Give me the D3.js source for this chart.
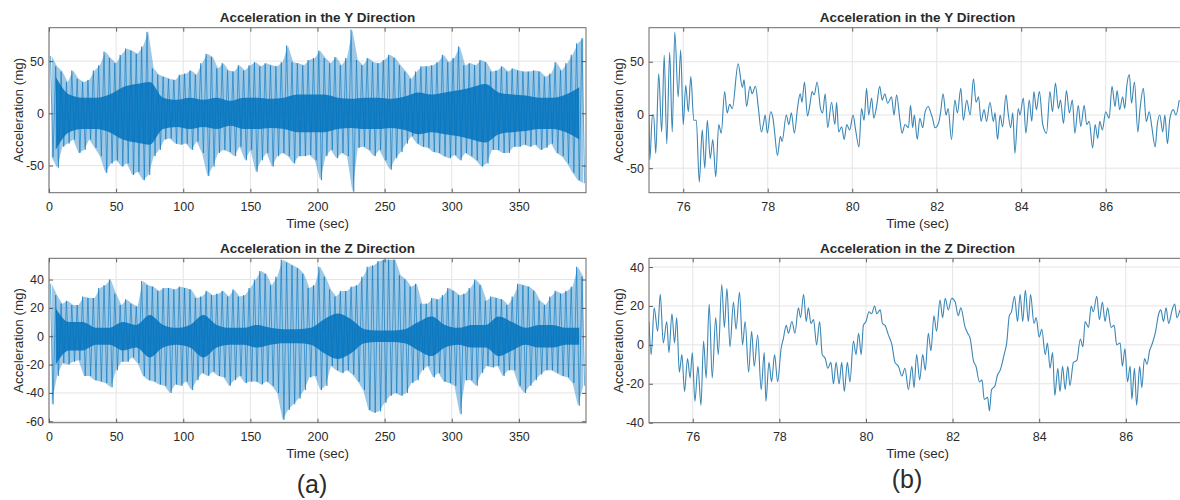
<!DOCTYPE html>
<html>
<head>
<meta charset="utf-8">
<script src="https://cdn.jsdelivr.net/npm/d3@7"></script>
<style>
  body { margin: 0; background: #fff; }
  text { font-family: "Liberation Sans", Arial, Helvetica, sans-serif; fill: #2b2b2b; }
</style>
</head>
<body>
<svg id="chart" width="1180" height="500"></svg>
<script>
// ---- data ----
// (a) panels: per 4 s bin, highest and lowest excursion; core = dense band half-width per 10 s
const binSec = 4, coreSec = 10;
const yDirHi = [55,45,40,30,41,33,30,32,41,46, 59,53,48,56,62,60,57,64,78,43,
  37,35,33,32,37,38,41,37,48,57, 54,43,48,41,40,46,41,46,49,45,
  48,46,45,49,65,49,48,46,51,53, 60,53,48,54,46,53,80,51,46,53,
  49,48,51,56,53,46,40,33,40,45, 45,46,49,56,49,53,64,46,48,46,
  51,49,40,41,45,40,43,41,40,40, 41,40,35,38,49,41,48,56,67,72];
const yDirLo = [-42,-52,-32,-29,-25,-38,-35,-25,-33,-41, -57,-48,-45,-51,-48,-59,-56,-64,-59,-41,
  -35,-25,-24,-29,-30,-29,-35,-27,-38,-60, -51,-38,-35,-37,-41,-32,-45,-35,-56,-45,
  -38,-51,-41,-38,-41,-48,-41,-41,-40,-45, -64,-41,-35,-43,-38,-41,-75,-33,-32,-35,
  -41,-35,-45,-54,-43,-37,-29,-22,-29,-32, -33,-37,-38,-41,-43,-40,-45,-38,-41,-45,
  -51,-48,-35,-35,-38,-38,-32,-32,-30,-32, -30,-35,-33,-29,-38,-41,-48,-57,-64,-67];
const yDirCore = [35,18,15,15,18,25,28,30,15,13, 15,13,15,12,15,15,14,15,18,18,
  18,15,14,15,15,14,16,20,18,20, 22,25,28,20,18,17,15,15,18,25];

const zDirHi = [37,29,23,25,22,22,28,27,27,34, 36,40,30,22,26,23,21,39,36,35,
  32,34,34,33,35,34,33,27,28,32, 29,30,32,28,33,28,29,34,40,46,
  44,36,42,54,52,50,48,44,34,36, 49,42,33,28,32,32,35,36,42,49,
  50,53,54,54,54,43,40,35,37,23, 23,27,26,29,34,32,29,30,34,40,
  36,25,28,27,26,22,28,37,36,35, 32,25,22,28,32,30,32,35,49,42];
const zDirLo = [-48,-28,-19,-20,-18,-17,-28,-28,-31,-32, -33,-36,-24,-18,-18,-15,-19,-28,-31,-32,
  -34,-35,-40,-34,-35,-32,-38,-31,-26,-28, -25,-28,-29,-35,-31,-28,-33,-32,-32,-34,
  -32,-35,-40,-59,-52,-48,-44,-38,-29,-28, -38,-35,-21,-24,-26,-24,-27,-32,-38,-52,
  -54,-53,-47,-42,-40,-42,-40,-33,-31,-24, -21,-29,-26,-32,-33,-35,-55,-31,-31,-35,
  -26,-21,-22,-21,-28,-24,-24,-35,-40,-35, -31,-27,-24,-24,-26,-28,-29,-33,-49,-35];
const zDirCore = [20,10,10,6,6,10,8,15,8,6, 8,15,8,6,6,8,6,5,5,6,
  12,16,12,5,4,4,5,10,14,8, 6,8,8,14,10,6,8,8,6,6];

// (b) panels: [time (s), acceleration (mg)] at the turning points of the trace
const yZoom = [[75.19,0],[75.21,-42],[75.27,0],[75.30,0],[75.35,-36],[75.42,39],[75.49,-16],[75.55,56],
  [75.61,-27],[75.68,59],[75.74,-16],[75.80,78],[75.88,17],[75.94,61],[76.00,-9],[76.06,28],[76.12,3],
  [76.18,36],[76.25,-5],[76.31,-5],[76.38,-63],[76.45,-14],[76.51,-50],[76.57,-5],[76.64,-41],[76.70,-23],
  [76.77,-58],[76.84,-9],[76.90,-17],[76.98,22],[77.04,2],[77.10,10],[77.16,6],[77.30,48],[77.40,26],
  [77.44,33],[77.50,8],[77.58,27],[77.63,20],[77.71,27],[77.78,6],[77.85,-16],[77.90,-8],[77.94,0],
  [77.99,-17],[78.07,3],[78.12,-2],[78.16,-15],[78.23,-38],[78.30,-20],[78.34,-25],[78.44,0],[78.50,-9],
  [78.56,2],[78.63,-17],[78.71,8],[78.77,20],[78.81,12],[78.87,31],[78.94,-1],[79.00,10],[79.05,22],
  [79.10,19],[79.17,31],[79.25,6],[79.30,2],[79.36,20],[79.42,-12],[79.51,12],[79.59,-9],[79.63,12],
  [79.68,-16],[79.75,-11],[79.81,-23],[79.87,-9],[79.94,-14],[80.02,0],[80.08,-14],[80.16,-30],[80.22,6],
  [80.28,-5],[80.34,25],[80.39,0],[80.46,16],[80.51,-3],[80.58,9],[80.65,27],[80.71,14],[80.77,20],
  [80.84,11],[80.93,17],[80.99,0],[81.05,19],[81.13,-5],[81.18,-17],[81.25,-9],[81.33,-12],[81.38,9],
  [81.43,-12],[81.47,0],[81.54,-23],[81.60,-3],[81.67,-12],[81.72,2],[81.80,8],[81.86,2],[81.90,-3],
  [81.96,-12],[82.04,-8],[82.09,2],[82.15,20],[82.22,0],[82.27,6],[82.35,-23],[82.43,14],[82.49,2],
  [82.57,25],[82.63,-5],[82.71,14],[82.79,0],[82.87,34],[82.93,12],[82.99,17],[83.05,-6],[83.12,5],
  [83.18,-6],[83.26,12],[83.34,-6],[83.38,2],[83.44,-23],[83.50,0],[83.56,-11],[83.64,19],[83.69,2],
  [83.75,-12],[83.80,2],[83.85,-36],[83.93,6],[83.97,0],[84.05,16],[84.11,-17],[84.19,14],[84.25,-6],
  [84.30,22],[84.36,5],[84.43,22],[84.51,-9],[84.60,-17],[84.68,22],[84.74,3],[84.81,30],[84.88,6],
  [84.93,14],[85.00,-8],[85.07,23],[85.14,2],[85.21,14],[85.27,-17],[85.35,9],[85.41,-11],[85.49,9],
  [85.55,-9],[85.61,-6],[85.69,-31],[85.75,-9],[85.81,-22],[85.86,-6],[85.92,-14],[86.00,3],[86.08,-3],
  [86.15,27],[86.22,8],[86.27,23],[86.33,5],[86.40,17],[86.45,6],[86.50,28],[86.56,38],[86.61,11],
  [86.68,31],[86.76,-16],[86.81,5],[86.89,25],[86.96,-6],[87.03,3],[87.09,-11],[87.17,-30],[87.22,-9],
  [87.28,0],[87.35,-16],[87.40,0],[87.46,-27],[87.52,-3],[87.60,5],[87.66,0],[87.74,14]];
const zZoom = [[74.99,12],[75.04,-5],[75.11,19],[75.19,7],[75.25,26],[75.32,1],[75.40,12],[75.45,-4],
  [75.52,16],[75.58,1],[75.63,14],[75.69,-14],[75.75,-5],[75.81,-24],[75.88,-7],[75.94,-17],[75.99,-4],
  [76.05,-29],[76.12,-11],[76.19,-31],[76.25,2],[76.31,-17],[76.38,21],[76.45,-17],[76.53,14],[76.59,-5],
  [76.67,31],[76.73,9],[76.79,29],[76.86,-1],[76.94,22],[77.00,8],[77.08,27],[77.15,0],[77.21,12],
  [77.29,-14],[77.36,7],[77.42,-11],[77.50,5],[77.58,-23],[77.65,-4],[77.69,-29],[77.76,-9],[77.82,-19],
  [77.89,-5],[77.96,-19],[78.04,-2],[78.09,3],[78.16,10],[78.21,6],[78.29,12],[78.36,6],[78.44,19],
  [78.49,14],[78.56,26],[78.62,12],[78.67,19],[78.73,11],[78.79,13],[78.86,0],[78.93,12],[78.99,-5],
  [79.06,-7],[79.12,-12],[79.19,-9],[79.25,-20],[79.31,-9],[79.38,-20],[79.44,-9],[79.50,-24],[79.57,-9],
  [79.63,-19],[79.71,2],[79.77,-5],[79.83,6],[79.89,-5],[79.94,10],[80.00,12],[80.07,17],[80.13,16],
  [80.20,20],[80.25,16],[80.33,18],[80.38,11],[80.44,10],[80.52,5],[80.60,0],[80.67,-9],[80.75,-11],
  [80.83,-16],[80.90,-12],[80.98,-23],[81.06,-11],[81.11,-22],[81.17,-5],[81.24,-18],[81.31,-5],
  [81.37,-13],[81.44,6],[81.50,-3],[81.57,15],[81.63,7],[81.71,23],[81.77,14],[81.83,24],[81.90,18],
  [81.98,24],[82.06,22],[82.13,15],[82.19,19],[82.29,9],[82.35,6],[82.41,3],[82.48,-8],[82.54,-11],
  [82.62,-19],[82.68,-18],[82.73,-28],[82.81,-27],[82.85,-34],[82.90,-23],[82.98,-21],[83.03,-16],
  [83.10,-13],[83.19,-5],[83.25,1],[83.31,15],[83.36,17],[83.43,25],[83.50,12],[83.56,26],[83.62,12],
  [83.68,28],[83.75,12],[83.80,26],[83.88,11],[83.93,14],[84.00,4],[84.06,8],[84.14,-5],[84.19,1],
  [84.25,-12],[84.31,-4],[84.36,-26],[84.43,-12],[84.48,-24],[84.54,-11],[84.60,-23],[84.66,-11],
  [84.71,-21],[84.79,-9],[84.87,-8],[84.95,3],[85.01,-1],[85.06,12],[85.14,9],[85.20,20],[85.25,17],
  [85.33,25],[85.39,13],[85.46,22],[85.52,12],[85.58,19],[85.66,9],[85.73,10],[85.79,0],[85.87,1],
  [85.92,-11],[85.98,-2],[86.04,-19],[86.10,-11],[86.14,-28],[86.20,-12],[86.25,-31],[86.32,-11],
  [86.37,-22],[86.43,-7],[86.49,-10],[86.55,-3],[86.60,0],[86.68,6],[86.76,16],[86.81,18],[86.87,12],
  [86.93,19],[86.99,11],[87.07,18],[87.13,21],[87.18,14],[87.25,18]];

// tick values
const fullTimeTicks = [0, 50, 100, 150, 200, 250, 300, 350];
const zoomTimeTicks = [76, 78, 80, 82, 84, 86];
const yAccTicks = [-50, 0, 50];
const zAccTicksFull = [-60, -40, -20, 0, 20, 40];
const zAccTicksZoom = [-40, -20, 0, 20, 40];

// ---- drawing ----
const svg = d3.select("#chart");
const BLUE = "#0072BD";

function drawPanel(cfg) {
  const x = d3.scaleLinear().domain(cfg.xDomain).range([cfg.left, cfg.right]);
  const y = d3.scaleLinear().domain(cfg.yDomain).range([cfg.bottom, cfg.top]);
  const g = svg.append("g");

  // grid
  g.selectAll(".gx").data(cfg.xTicks).join("line")
    .attr("x1", d => x(d)).attr("x2", d => x(d))
    .attr("y1", cfg.top).attr("y2", cfg.bottom)
    .attr("stroke", "#e4e4e4").attr("stroke-width", 1);
  g.selectAll(".gy").data(cfg.yTicks).join("line")
    .attr("y1", d => y(d)).attr("y2", d => y(d))
    .attr("x1", cfg.left).attr("x2", cfg.right)
    .attr("stroke", "#e4e4e4").attr("stroke-width", 1);

  svg.append("clipPath").attr("id", "clip" + cfg.id)
    .append("rect")
    .attr("x", cfg.left).attr("y", cfg.top)
    .attr("width", cfg.right - cfg.left).attr("height", cfg.bottom - cfg.top);
  const plot = g.append("g").attr("clip-path", "url(#clip" + cfg.id + ")");
  cfg.draw(plot, x, y);

  // box + inward ticks on all four sides
  const fmt = d => String(d);
  const axes = [
    [d3.axisBottom(x).tickValues(cfg.xTicks).tickFormat(fmt).tickSize(-4).tickPadding(9), cfg.bottom, 0],
    [d3.axisTop(x).tickValues(cfg.xTicks).tickFormat("").tickSize(-4), cfg.top, 0],
    [d3.axisLeft(y).tickValues(cfg.yTicks).tickFormat(fmt).tickSize(-4).tickPadding(5), 0, cfg.left],
    [d3.axisRight(y).tickValues(cfg.yTicks).tickFormat("").tickSize(-4), 0, cfg.right]
  ];
  axes.forEach(([ax, ty, tx]) => {
    const a = g.append("g").attr("transform", `translate(${tx},${ty})`).call(ax);
    a.select(".domain").remove();
    a.selectAll(".tick line").attr("stroke", "#3a3a3a").attr("stroke-width", 0.8);
    a.selectAll(".tick text").attr("fill", "#2b2b2b").style("font-size", "12.5px")
      .attr("font-family", null);
  });
  g.append("rect")
    .attr("x", cfg.left).attr("y", cfg.top)
    .attr("width", cfg.right - cfg.left).attr("height", cfg.bottom - cfg.top)
    .attr("fill", "none").attr("stroke", "#6a6a6a").attr("stroke-width", 1);

  const cx = (cfg.left + cfg.right) / 2;
  g.append("text").attr("x", cx).attr("y", cfg.top - 5.5)
    .attr("text-anchor", "middle").style("font-size", "13.5px").style("font-weight", "bold")
    .text(cfg.title);
  g.append("text").attr("x", cx).attr("y", cfg.bottom + 35)
    .attr("text-anchor", "middle").style("font-size", "13.4px")
    .text("Time (sec)");
  g.append("text")
    .attr("transform", `translate(${cfg.left - 26},${(cfg.top + cfg.bottom) / 2}) rotate(-90)`)
    .attr("text-anchor", "middle").style("font-size", "13.4px")
    .text("Acceleration (mg)");
}

function denseTrace(hi, lo, core) {
  return function (plot, x, y) {
    // haze of the full excursion band
    const env = hi.map((h, i) => [i * binSec + binSec / 2, lo[i], h]);
    plot.append("path").datum(env)
      .attr("d", d3.area().x(d => x(d[0])).y0(d => y(d[1])).y1(d => y(d[2])))
      .attr("fill", BLUE).attr("fill-opacity", 0.38);
    // spikes: alternate between the bin's highest and lowest value
    const pts = [];
    hi.forEach((h, i) => {
      pts.push([i * binSec + binSec * 0.25, h]);
      pts.push([i * binSec + binSec * 0.75, lo[i]]);
    });
    plot.append("path").datum(pts)
      .attr("d", d3.line().x(d => x(d[0])).y(d => y(d[1])))
      .attr("fill", "none").attr("stroke", BLUE).attr("stroke-width", 0.9)
      .attr("stroke-opacity", 0.65);
    // dense core
    plot.append("path")
      .datum(core.map((c, i) => [i * coreSec + coreSec / 2, c]))
      .attr("d", d3.area().x(d => x(d[0])).y0(d => y(-d[1])).y1(d => y(d[1]))
        .curve(d3.curveMonotoneX))
      .attr("fill", BLUE).attr("fill-opacity", 0.85);
  };
}

function zoomTrace(series) {
  return function (plot, x, y) {
    plot.append("path").datum(series)
      .attr("d", d3.line().x(d => x(d[0])).y(d => y(d[1])).curve(d3.curveMonotoneX))
      .attr("fill", "none").attr("stroke", "#3a86b6").attr("stroke-width", 1.1);
  };
}

drawPanel({ id: "a1", left: 49, right: 586, top: 27.7, bottom: 192.7,
  xDomain: [0, 400], yDomain: [-76, 82], xTicks: fullTimeTicks, yTicks: yAccTicks,
  title: "Acceleration in the Y Direction", draw: denseTrace(yDirHi, yDirLo, yDirCore) });
drawPanel({ id: "a2", left: 49, right: 586, top: 258.3, bottom: 422.7,
  xDomain: [0, 400], yDomain: [-61, 55], xTicks: fullTimeTicks, yTicks: zAccTicksFull,
  title: "Acceleration in the Z Direction", draw: denseTrace(zDirHi, zDirLo, zDirCore) });
drawPanel({ id: "b1", left: 649, right: 1186, top: 27.7, bottom: 192.7,
  xDomain: [75.19, 87.9], yDomain: [-73, 82], xTicks: zoomTimeTicks, yTicks: yAccTicks,
  title: "Acceleration in the Y Direction", draw: zoomTrace(yZoom) });
drawPanel({ id: "b2", left: 649, right: 1186, top: 258.3, bottom: 422.7,
  xDomain: [74.99, 87.39], yDomain: [-40, 44.5], xTicks: zoomTimeTicks, yTicks: zAccTicksZoom,
  title: "Acceleration in the Z Direction", draw: zoomTrace(zZoom) });

svg.append("text").attr("x", 312).attr("y", 493).attr("text-anchor", "middle")
  .style("font-size", "25px").text("(a)");
svg.append("text").attr("x", 907).attr("y", 488).attr("text-anchor", "middle")
  .style("font-size", "25px").text("(b)");
</script>
</body>
</html>
